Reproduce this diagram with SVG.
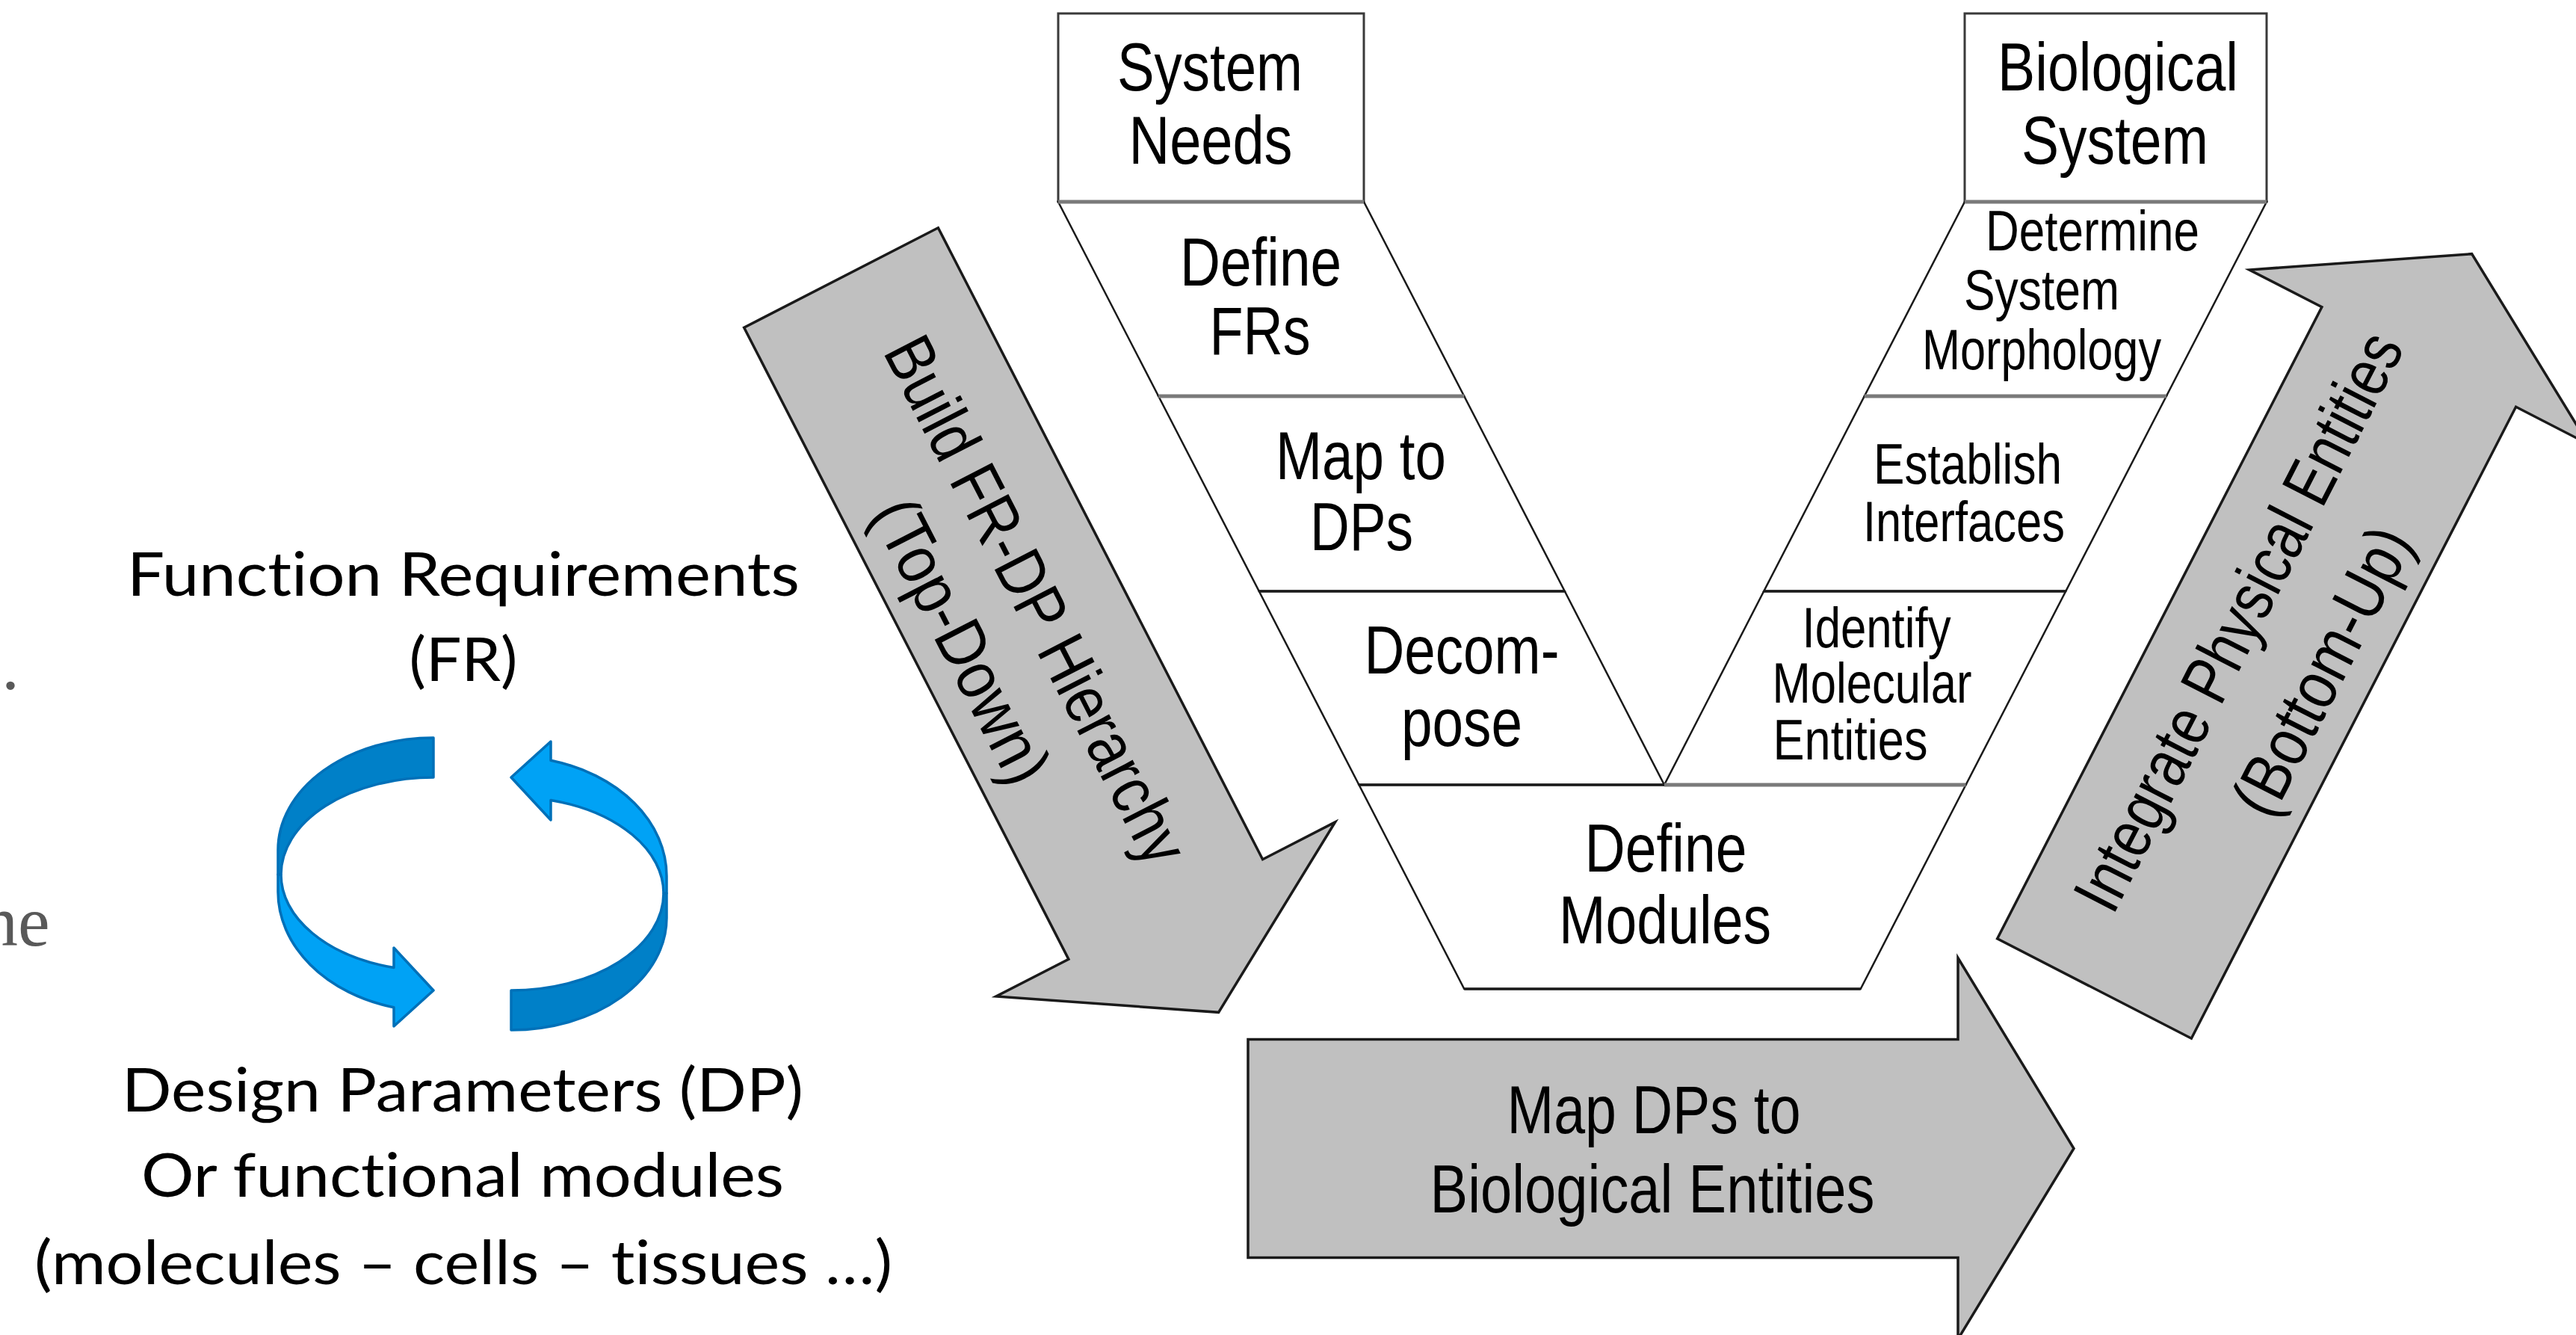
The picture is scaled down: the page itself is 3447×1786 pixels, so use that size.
<svg xmlns="http://www.w3.org/2000/svg" xmlns:xlink="http://www.w3.org/1999/xlink" width="3447" height="1786" viewBox="0 0 3447 1786">
  <style>
    .lbl { font-family: "Liberation Sans Narrow", "Liberation Sans", Arial, sans-serif; font-size: 91px; fill: #000; text-anchor: middle; }
    .sm { font-size: 76px; }
    .cal { font-family: Lato, "Open Sans", sans-serif; font-size: 82px; fill: #000; text-anchor: middle; font-variant-ligatures: none; font-feature-settings: "liga" 0, "clig" 0; }
    .frag { font-family: "Liberation Serif", "Times New Roman", serif; font-size: 96px; fill: #595959; }
    .band { fill: #fff; stroke: #1a1a1a; stroke-width: 2.5; stroke-linejoin: miter; }
    .box { fill: #fff; stroke: #3a3a3a; stroke-width: 3; }
    .div { stroke: #7a7a7a; stroke-width: 5; }
    .rule { stroke: #1a1a1a; stroke-width: 3.5; }
    .garrow { fill: #c0c0c0; stroke: #1a1a1a; stroke-width: 3.5; stroke-linejoin: miter; }
    .dark { fill: #0080c8; stroke: #0070b8; stroke-width: 3.5; stroke-linejoin: round; }
    .light { fill: #00a2f5; stroke: #0070b8; stroke-width: 3.5; stroke-linejoin: round; }
  </style>
  <defs>
    <!-- block arrow in its own frame: tail at x=0, tip at x=1105 -->
    <path id="bigArrow" d="M0,-146 L950,-146 L950,-255 L1105,0 L950,255 L950,146 L0,146 Z"/>
    <!-- twisted ribbon arrow, left half of the FR/DP cycle -->
    <g id="ribbon">
      <path class="dark" d="M580,987 A208,150 0 0 0 372,1137 L372,1170 L376,1170 A204,130 0 0 1 580,1040 Z"/>
      <path class="light" d="M372,1170 L372,1193 A208,160 0 0 0 527,1347.7 L527,1373 L580,1325 L527,1268 L527,1294.6 A204,129 0 0 1 376,1170 Z"/>
    </g>
  </defs>

  <rect width="3447" height="1786" fill="#fff"/>

  <!-- clipped text fragments at the left edge -->
  <text class="frag" x="2" y="922">.</text>
  <text class="frag" x="-24" y="1265">ne</text>

  <!-- FR / DP cycle labels -->
  <g id="fr-label">
    <text class="cal" x="620" y="797" textLength="900" lengthAdjust="spacingAndGlyphs">Function Requirements</text>
    <text class="cal" x="620" y="911" textLength="145" lengthAdjust="spacingAndGlyphs">(FR)</text>
  </g>
  <g id="dp-label">
    <text class="cal" x="619" y="1487" textLength="912" lengthAdjust="spacingAndGlyphs">Design Parameters (DP)</text>
    <text class="cal" x="619" y="1601" textLength="860" lengthAdjust="spacingAndGlyphs">Or functional modules</text>
    <text class="cal" x="620" y="1718" textLength="1148" lengthAdjust="spacingAndGlyphs">(molecules – cells – tissues …)</text>
  </g>

  <!-- connectors: the two ribbon arrows between FR and DP -->
  <g id="connectors">
    <use xlink:href="#ribbon"/>
    <use xlink:href="#ribbon" transform="rotate(180 632 1182.5)"/>
  </g>

  <!-- left side of the V: top-down decomposition -->
  <g id="system-needs">
    <rect class="box" x="1416" y="18" width="409" height="252"/>
    <text class="lbl" x="1619" y="121" textLength="248" lengthAdjust="spacingAndGlyphs">System</text>
    <text class="lbl" x="1620" y="219" textLength="219" lengthAdjust="spacingAndGlyphs">Needs</text>
  </g>
  <g id="define-frs">
    <polygon class="band" points="1416,270 1825,270 1959.2,530 1550.2,530"/>
    <text class="lbl" x="1687" y="382" textLength="216" lengthAdjust="spacingAndGlyphs">Define</text>
    <text class="lbl" x="1686" y="474" textLength="135" lengthAdjust="spacingAndGlyphs">FRs</text>
  </g>
  <g id="map-to-dps">
    <polygon class="band" points="1550.2,530 1959.2,530 2093.8,791 1684.8,791"/>
    <text class="lbl" x="1821" y="641" textLength="228" lengthAdjust="spacingAndGlyphs">Map to</text>
    <text class="lbl" x="1822" y="736" textLength="138" lengthAdjust="spacingAndGlyphs">DPs</text>
  </g>
  <g id="decompose">
    <polygon class="band" points="1684.8,791 2093.8,791 2227,1050 1818.5,1050"/>
    <text class="lbl" x="1956" y="901" textLength="261" lengthAdjust="spacingAndGlyphs">Decom-</text>
    <text class="lbl" x="1956" y="998" textLength="162" lengthAdjust="spacingAndGlyphs">pose</text>
  </g>

  <!-- bottom of the V -->
  <g id="define-modules">
    <polygon class="band" points="1818.5,1050 2630.5,1050 2489.7,1323 1959.3,1323"/>
    <text class="lbl" x="2229" y="1166" textLength="217" lengthAdjust="spacingAndGlyphs">Define</text>
    <text class="lbl" x="2228" y="1262" textLength="284" lengthAdjust="spacingAndGlyphs">Modules</text>
  </g>

  <!-- right side of the V: bottom-up integration -->
  <g id="biological-system">
    <rect class="box" x="2629" y="18" width="404" height="252"/>
    <text class="lbl" x="2834" y="121" textLength="322" lengthAdjust="spacingAndGlyphs">Biological</text>
    <text class="lbl" x="2830" y="219" textLength="250" lengthAdjust="spacingAndGlyphs">System</text>
  </g>
  <g id="determine-morphology">
    <polygon class="band" points="2629,270 3033,270 2898.8,530 2494.8,530"/>
    <text class="lbl sm" x="2800" y="335" textLength="286" lengthAdjust="spacingAndGlyphs">Determine</text>
    <text class="lbl sm" x="2732" y="414" textLength="208" lengthAdjust="spacingAndGlyphs">System</text>
    <text class="lbl sm" x="2732" y="494" textLength="320" lengthAdjust="spacingAndGlyphs">Morphology</text>
  </g>
  <g id="establish-interfaces">
    <polygon class="band" points="2494.8,530 2898.8,530 2764.2,791 2360.2,791"/>
    <text class="lbl sm" x="2633" y="647" textLength="252" lengthAdjust="spacingAndGlyphs">Establish</text>
    <text class="lbl sm" x="2628" y="724" textLength="270" lengthAdjust="spacingAndGlyphs">Interfaces</text>
  </g>
  <g id="identify-entities">
    <polygon class="band" points="2360.2,791 2764.2,791 2630.5,1050 2227,1050"/>
    <text class="lbl sm" x="2511" y="866" textLength="199" lengthAdjust="spacingAndGlyphs">Identify</text>
    <text class="lbl sm" x="2505" y="940" textLength="267" lengthAdjust="spacingAndGlyphs">Molecular</text>
    <text class="lbl sm" x="2476" y="1016" textLength="207" lengthAdjust="spacingAndGlyphs">Entities</text>
  </g>

  <!-- band dividers -->
  <g id="dividers">
    <line class="div" x1="1416" y1="270" x2="1825" y2="270"/>
    <line class="div" x1="2629" y1="270" x2="3033" y2="270"/>
    <line class="div" x1="1550.2" y1="530" x2="1959.2" y2="530"/>
    <line class="div" x1="2494.8" y1="530" x2="2898.8" y2="530"/>
    <line class="rule" x1="1684.8" y1="791" x2="2093.8" y2="791"/>
    <line class="rule" x1="2360.2" y1="791" x2="2764.2" y2="791"/>
    <line class="rule" x1="1818.5" y1="1050" x2="2227" y2="1050"/>
    <line class="div" x1="2227" y1="1050" x2="2630.5" y2="1050"/>
    <line class="rule" x1="1959.3" y1="1323" x2="2489.7" y2="1323"/>
  </g>

  <!-- process arrows -->
  <g id="arrow-top-down" transform="translate(1125.5,371.5) rotate(62.8)">
    <use xlink:href="#bigArrow" class="garrow"/>
    <text class="lbl" x="503" y="-4" textLength="780" lengthAdjust="spacingAndGlyphs">Build FR-DP Hierarchy</text>
    <text class="lbl" x="506" y="110" textLength="415" lengthAdjust="spacingAndGlyphs">(Top-Down)</text>
  </g>
  <g id="arrow-bottom-up" transform="translate(2802.5,1322.5) rotate(-62.8)">
    <use xlink:href="#bigArrow" class="garrow"/>
    <text class="lbl" x="525" y="-22" textLength="855" lengthAdjust="spacingAndGlyphs">Integrate Physical Entities</text>
    <text class="lbl" x="517" y="108" textLength="420" lengthAdjust="spacingAndGlyphs">(Bottom-Up)</text>
  </g>
  <g id="arrow-map-dps">
    <use xlink:href="#bigArrow" class="garrow" transform="translate(1670,1536.5)"/>
    <text class="lbl" x="2213" y="1516" textLength="393" lengthAdjust="spacingAndGlyphs">Map DPs to</text>
    <text class="lbl" x="2211" y="1622" textLength="595" lengthAdjust="spacingAndGlyphs">Biological Entities</text>
  </g>
</svg>
